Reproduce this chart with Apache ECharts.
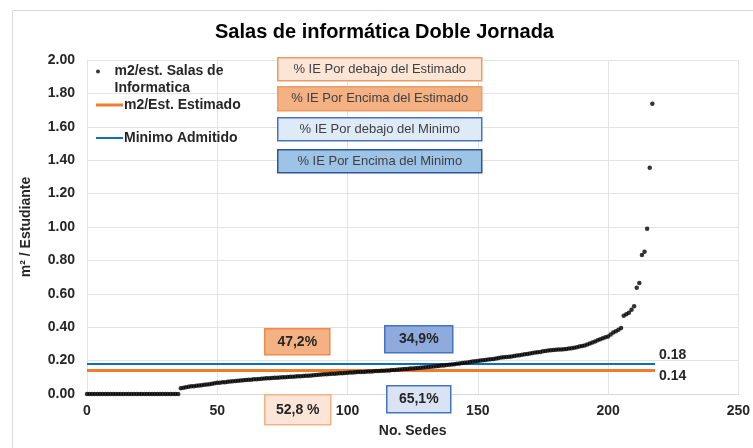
<!DOCTYPE html>
<html>
<head>
<meta charset="utf-8">
<title>Salas de informática Doble Jornada</title>
<script src="https://cdn.jsdelivr.net/npm/echarts@6/dist/echarts.min.js"></script>
<style>
  html, body { margin: 0; padding: 0; background: #fff; }
  #main { width: 753px; height: 448px; }
</style>
</head>
<body>
<div id="main"></div>
<script>
// m2 por estudiante de cada sede, ordenado de menor a mayor (x = No. de sede)
var m2Sedes = [
  0, 0, 0, 0, 0, 0, 0, 0, 0, 0, 0, 0, 0, 0, 0, 0, 0, 0, 0, 0,
  0, 0, 0, 0, 0, 0, 0, 0, 0, 0, 0, 0, 0, 0, 0, 0,
  0.035, 0.038, 0.040, 0.043, 0.046, 0.047, 0.049, 0.051, 0.053, 0.055, 0.057, 0.059, 0.062, 0.064,
  0.067, 0.068, 0.070, 0.071, 0.073, 0.075, 0.076, 0.078, 0.080, 0.081,
  0.083, 0.084, 0.085, 0.086, 0.088, 0.089, 0.090, 0.091, 0.093, 0.094,
  0.095, 0.096, 0.097, 0.098, 0.099, 0.100, 0.101, 0.102, 0.103, 0.104,
  0.105, 0.106, 0.107, 0.108, 0.109, 0.110, 0.111, 0.113, 0.114, 0.116,
  0.117, 0.118, 0.119, 0.120, 0.121, 0.122, 0.123, 0.124, 0.125, 0.126,
  0.127, 0.128, 0.129, 0.130, 0.131, 0.131, 0.132, 0.133, 0.134, 0.135,
  0.136, 0.137, 0.138, 0.139, 0.139,
  0.140, 0.141, 0.143, 0.144, 0.145,
  0.146, 0.148, 0.149, 0.150, 0.152, 0.153, 0.154, 0.156, 0.157, 0.159,
  0.160, 0.162, 0.163, 0.165, 0.166, 0.168, 0.170, 0.171, 0.173, 0.175,
  0.176, 0.178,
  0.181, 0.183, 0.185, 0.187, 0.189, 0.191, 0.194, 0.196,
  0.198, 0.200, 0.202, 0.204, 0.206, 0.208, 0.210, 0.213, 0.215, 0.218,
  0.220, 0.222, 0.223, 0.225, 0.228, 0.230, 0.232, 0.235, 0.238, 0.240,
  0.243, 0.245, 0.248, 0.250, 0.252, 0.256, 0.258, 0.260, 0.262, 0.263,
  0.265, 0.266, 0.267, 0.268, 0.270, 0.272, 0.274, 0.277, 0.280, 0.284,
  0.287, 0.291, 0.296, 0.302, 0.308, 0.315, 0.322, 0.328, 0.334, 0.340,
  0.345, 0.357, 0.368, 0.376, 0.385, 0.395,
  0.469, 0.478, 0.487, 0.505, 0.525,
  0.636, 0.664, 0.832, 0.852, 0.990, 1.355, 1.738
];
// lineas de referencia [x inicio, x fin, valor]
var estimado = [0, 218, 0.14];
var minimo = [0, 218, 0.18];
// textos de los recuadros
var cuadrosLeyenda = [
  "% IE Por debajo del Estimado",
  "% IE Por Encima del Estimado",
  "% IE Por debajo del Minimo",
  "% IE Por Encima del Minimo"
];
var porcentajes = ["47,2%", "52,8 %", "34,9%", "65,1%"];

(function() {
  var myChart = echarts.init(document.getElementById("main"));

  var puntos = m2Sedes.map(function(v, i) {
    return [i, v];
  });

  function lineaRef(r) {
    return [[r[0], r[2]], [r[1], r[2]]];
  }

  var fuente = "Liberation Sans, Arial, sans-serif";
  var labelFont = {
    color: "#262626",
    fontFamily: fuente,
    fontWeight: "bold",
    fontSize: 14
  };

  // recuadro con texto (encima de la rejilla)
  function cuadro(x, y, w, h, texto, fill, stroke, bold) {
    return {
      type: "group",
      left: x,
      top: y,
      z: 100,
      children: [
        {
          type: "rect",
          z: 100,
          shape: { x: 0, y: 0, width: w, height: h },
          style: { fill: fill, stroke: stroke, lineWidth: 1.5 }
        },
        {
          type: "text",
          z: 101,
          x: w / 2,
          y: h / 2,
          style: {
            text: texto,
            fill: bold ? "#262626" : "#404040",
            font: (bold ? "bold " : "") + (bold ? 14 : 13) + "px " + fuente,
            align: "center",
            verticalAlign: "middle",
            textAlign: "center",
            textVerticalAlign: "middle"
          }
        }
      ]
    };
  }

  function etiquetaFin(dy) {
    return {
      show: true,
      distance: 4,
      offset: [0, dy],
      formatter: function(p) {
        return p.value[1].toFixed(2);
      },
      color: "#262626",
      fontFamily: fuente,
      fontWeight: "bold",
      fontSize: 14
    };
  }

  var option = {
    animation: false,
    title: {
      text: "Salas de informática Doble Jornada",
      left: 215,
      top: 22,
      padding: 0,
      textStyle: {
        color: "#000",
        fontFamily: fuente,
        fontWeight: "bold",
        fontSize: 20
      }
    },
    legend: [
      {
        left: 96,
        top: 46,
        padding: 0,
        itemWidth: 23,
        itemHeight: 4,
        data: ["m2/est. Salas de Informatica"],
        formatter: function() {
          return " \nm2/est. Salas de\nInformatica";
        },
        textStyle: Object.assign({ lineHeight: 17 }, labelFont)
      },
      {
        left: 96,
        top: 98,
        padding: 0,
        itemWidth: 27,
        itemHeight: 3,
        icon: "rect",
        data: ["m2/Est. Estimado"],
        textStyle: Object.assign({ padding: [0, 0, 0, -4] }, labelFont)
      },
      {
        left: 96,
        top: 131,
        padding: 0,
        itemWidth: 27,
        itemHeight: 2,
        icon: "rect",
        data: ["Minimo Admitido"],
        textStyle: Object.assign({ padding: [0, 0, 0, -4] }, labelFont)
      }
    ],
    grid: {
      left: 87,
      right: 12,
      top: 60,
      bottom: 54
    },
    xAxis: {
      type: "value",
      min: 0,
      max: 250,
      interval: 50,
      name: "No. Sedes",
      nameLocation: "middle",
      nameGap: 30,
      nameTextStyle: labelFont,
      axisLine: { show: true, lineStyle: { color: "#D9D9D9" } },
      axisTick: { show: false },
      axisLabel: Object.assign({ margin: 10 }, labelFont),
      splitLine: { lineStyle: { color: "#E3E3E3" } }
    },
    yAxis: {
      type: "value",
      min: 0,
      max: 2,
      interval: 0.2,
      name: "m² / Estudiante",
      nameLocation: "middle",
      nameGap: 54,
      nameTextStyle: labelFont,
      axisLine: { show: false },
      axisTick: { show: false },
      axisLabel: Object.assign({
        margin: 12,
        formatter: function(v) {
          return v.toFixed(2);
        }
      }, labelFont),
      splitLine: { lineStyle: { color: "#E3E3E3" } }
    },
    graphic: [
      {
        type: "rect",
        left: 10,
        top: 8,
        silent: true,
        shape: { width: 760, height: 460 },
        style: { fill: "none", stroke: "#D9D9D9", lineWidth: 1 }
      },
      cuadro(277, 57, 204, 23, cuadrosLeyenda[0], "#FBE5D6", "#F19A5E", false),
      cuadro(277, 86, 204, 24, cuadrosLeyenda[1], "#F4B183", "#F19A5E", false),
      cuadro(277, 117, 204, 23, cuadrosLeyenda[2], "#DEEBF7", "#4A72B8", false),
      cuadro(277, 149, 204, 23, cuadrosLeyenda[3], "#9DC3E6", "#2F5597", false),
      cuadro(264, 328, 65, 26, porcentajes[0], "#F4B183", "#F08A45", true),
      cuadro(264, 394, 66, 30, porcentajes[1], "#FBE5D6", "#F4B183", true),
      cuadro(384, 325, 68, 27, porcentajes[2], "#8FAADC", "#4472C4", true),
      cuadro(386, 385, 64, 27, porcentajes[3], "#DAE3F3", "#4472C4", true)
    ],
    series: [
      {
        name: "m2/est. Salas de Informatica",
        type: "scatter",
        symbol: "circle",
        symbolSize: 4.5,
        z: 5,
        itemStyle: { color: "#000" },
        data: puntos
      },
      {
        name: "m2/Est. Estimado",
        type: "line",
        symbol: "none",
        z: 3,
        color: "#ED7D31",
        lineStyle: { width: 3, color: "#ED7D31" },
        endLabel: etiquetaFin(6),
        data: lineaRef(estimado)
      },
      {
        name: "Minimo Admitido",
        type: "line",
        symbol: "none",
        z: 3,
        color: "#0A70C4",
        lineStyle: { width: 2, color: "#0A70C4" },
        endLabel: etiquetaFin(-9),
        data: lineaRef(minimo)
      }
    ]
  };

  myChart.setOption(option);
  window.addEventListener("resize", function() {
    myChart.resize();
  });
})();
</script>
</body>
</html>
